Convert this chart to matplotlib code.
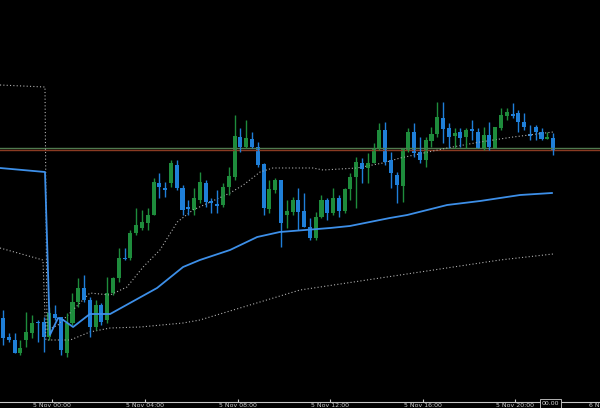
import numpy as np
import matplotlib
matplotlib.use("Agg")
import matplotlib.pyplot as plt

BASE = 408  # price scale reference (chart values are stored as screen levels)

# candles: top, bottom, high, low (screen levels), bull flag
tops = [318,337,340,348,332,323,322,322,313,314,317,323,302,288,288,300,305,305,293,278,
        258,258,233,225,222,215,182,183,188,163,165,188,207,198,182,183,201,204,187,176,
        136,137,138,139,147,164,189,180,180,211,200,200,211,227,217,200,200,198,198,189,
        177,162,163,163,148,130,130,160,175,149,132,132,152,140,134,117,118,128,133,132,
        130,129,132,135,135,127,115,112,114,113,122,134,127,132,137,138]
bots = [338,340,353,353,340,333,323,337,337,318,350,353,323,302,300,327,327,322,320,293,
        278,259,258,233,228,223,215,187,190,183,188,210,209,210,200,202,203,206,205,187,
        177,147,147,147,165,208,209,190,223,215,212,212,227,238,238,217,213,213,211,211,
        189,177,169,168,163,149,162,173,185,186,150,153,160,160,141,134,129,137,136,138,
        137,131,148,148,147,148,128,116,116,122,127,136,132,139,139,150]
highs = [310,333,333,340,312,315,320,317,307,305,317,313,293,278,275,297,300,303,277,277,
         248,248,230,208,210,208,178,173,182,160,160,185,200,188,172,180,198,190,183,167,
         115,128,120,132,142,163,180,178,180,200,197,188,193,218,212,195,198,188,195,188,
         173,157,158,153,143,123,122,152,172,148,128,123,137,137,127,102,102,123,128,128,
         128,120,128,127,122,127,108,108,103,110,113,125,125,128,132,133]
lows = [345,342,353,355,347,338,342,352,340,320,355,357,325,307,302,337,330,325,323,295,
        282,260,260,235,230,230,215,198,197,187,190,215,215,215,203,207,213,213,207,195,
        180,152,148,148,167,215,213,193,247,228,215,230,227,240,240,218,220,215,217,213,
        200,208,183,183,163,150,165,188,203,202,152,157,163,167,147,137,143,148,148,147,
        148,140,148,150,150,148,130,120,118,132,130,140,140,140,139,155]
bull = [0,0,0,1,1,1,0,0,1,0,0,1,1,1,0,0,1,0,1,1,
        1,0,1,1,1,1,1,0,0,1,0,0,0,1,1,0,0,0,1,1,
        1,0,1,0,0,0,1,1,0,1,1,0,0,0,1,1,0,1,0,1,
        1,1,0,1,1,1,0,0,0,1,1,0,0,1,1,1,0,0,1,0,
        1,0,0,1,0,1,1,1,0,0,0,0,0,0,1,0]

# moving average (blue) knots: candle index, screen level
ma_x = [-0.52,7.25,8.1,9.5,10.4,12.1,15.0,18.5,26.6,31.1,34.0,39.2,43.9,47.8,56.5,59.9,66.8,69.8,76.7,82.4,89.3,94.8]
ma_y = [168,172,335,318,320,327,314,314,288,267,260,250,237,232,228,226,218,215,205,201,195,193]
# upper dotted band
up_x = [-0.52,7.25,7.6,9.5,15.0,18.5,21.4,24.2,27.1,30.1,32.8,39.2,41.5,44.4,46.6,53.5,55.3,61.1,65.6,68.6,76.7,82.4,88.1,95.0]
up_y = [85,87,330,325,293,295,287,267,250,222,210,193,185,172,168,168,170,168,163,158,148,142,137,132]
# lower dotted band
lo_x = [-0.52,6.9,7.4,11.6,15.0,18.5,23.7,31.1,34.0,51.3,68.6,85.8,95.0]
lo_y = [248,260,340,340,332,328,327,323,320,290,275,260,254]

tick_pos = [8.5, 24.5, 40.5, 56.5, 72.5, 88.5, 104.5]
tick_lab = ["5 Nov 00:00", "5 Nov 04:00", "5 Nov 08:00", "5 Nov 12:00",
            "5 Nov 16:00", "5 Nov 20:00", "6 Nov 00:00"]

GREEN = "#1e8c3c"
BLUE = "#1f7fd8"

fig = plt.figure(figsize=(6, 4.08), dpi=100, facecolor="black")
ax = fig.add_axes([0, 0, 1, 1], facecolor="black")
ax.set_xlim(-0.52, 103.1)
ax.set_ylim(0, 408)
ax.axis("off")

p = lambda v: BASE - np.asarray(v, dtype=float)

ax.axhline(p(148), color="#4f7a4f", lw=1)
ax.axhline(p(150), color="#8a3a22", lw=1)

ax.plot(up_x, p(up_y), color="#b0b0b0", lw=0.8, ls=(0, (1, 2)))
ax.plot(lo_x, p(lo_y), color="#b0b0b0", lw=0.8, ls=(0, (1, 2)))

for i in range(len(tops)):
    c = GREEN if bull[i] else BLUE
    ax.vlines(i, p(lows[i]), p(highs[i]), color=c, lw=1)
    h = max(bots[i] - tops[i], 1)
    ax.bar(i, h, bottom=p(bots[i]), width=0.7, color=c, linewidth=0)

ax.plot(ma_x, p(ma_y), color="#3d8fe8", lw=1.3)

# x axis
ax.axhline(p(402), color="#c8c8c8", lw=0.8)
for t, lab in zip(tick_pos, tick_lab):
    ax.vlines(t, p(402), p(399), color="#c8c8c8", lw=0.8)
    ax.text(t, p(403), lab, color="#c8c8c8", fontsize=4.5, ha="center", va="top")
ax.text(94.5, p(403.5), "00.00", color="#d0d0d0", fontsize=4.5, ha="center", va="center",
        bbox=dict(boxstyle="square,pad=0.25", fc="black", ec="#d0d0d0", lw=0.6))

fig.savefig("out.png", dpi=100, facecolor="black")
